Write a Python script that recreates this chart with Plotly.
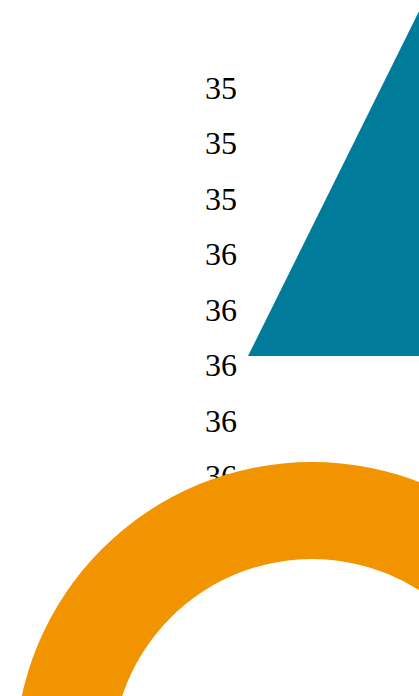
import plotly.graph_objects as go

# ---- data ----
tick_values = [35.2, 35.3, 35.4, 35.5, 35.6, 35.7, 35.8, 35.9, 36.0]
tick_labels = ["35", "35", "35", "36", "36", "36", "36", "36", "36"]

area_x = [0.0, 0.475, 0.475]
area_y = [35.684, 35.042, 35.684]

ring_labels = ["A"]
ring_values = [1]

TEAL = "#007B99"
ORANGE = "#F29400"

W, H = 620, 1080

fig = go.Figure()

fig.add_trace(go.Scatter(
    x=area_x, y=area_y,
    mode="lines", fill="toself",
    fillcolor=TEAL, line=dict(color=TEAL, width=0),
    hoverinfo="skip", showlegend=False,
))

fig.add_trace(go.Pie(
    labels=ring_labels, values=ring_values,
    hole=0.673, sort=False,
    marker=dict(colors=[ORANGE], line=dict(width=0)),
    textinfo="none", hoverinfo="skip", showlegend=False,
    domain=dict(x=[15 / W, 609 / W], y=[(H - 1056) / H, (H - 462) / H]),
))

fig.update_layout(
    width=W, height=H,
    margin=dict(l=0, r=0, t=0, b=0),
    paper_bgcolor="white", plot_bgcolor="white",
    showlegend=False,
    xaxis=dict(domain=[248 / W, 1], range=[0, 1], visible=False,
               showgrid=False, zeroline=False),
    yaxis=dict(domain=[0, 1], range=[36.98829, 35.04234],
               tickvals=tick_values, ticktext=tick_labels,
               showgrid=False, zeroline=False, showline=False, ticks="",
               ticklabelstandoff=10,
               tickfont=dict(family="Liberation Serif", size=32, color="#000000")),
)

fig.write_html(
    "out.html",
    config={"displayModeBar": False},
    post_script="document.body.style.margin='0';"
                "document.documentElement.style.overflow='hidden';"
                "document.body.style.overflow='hidden';",
)
